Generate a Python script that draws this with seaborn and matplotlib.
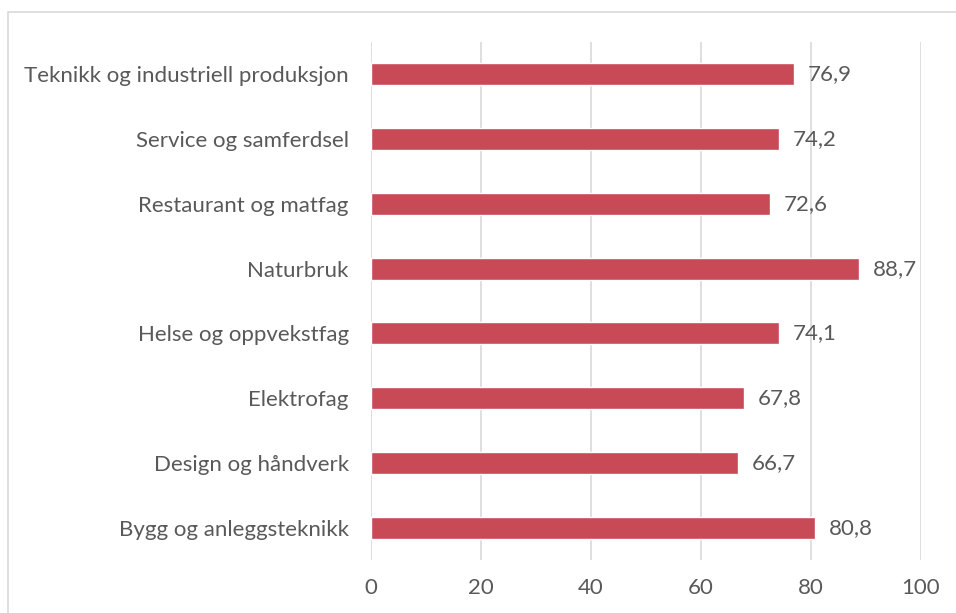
import matplotlib
matplotlib.use("Agg")
import matplotlib.pyplot as plt
import seaborn as sns
import pandas as pd
from matplotlib.patches import Rectangle

# program areas and share (%), top to bottom
programs = ["Teknikk og industriell produksjon", "Service og samferdsel", "Restaurant og matfag",
            "Naturbruk", "Helse og oppvekstfag", "Elektrofag", "Design og håndverk",
            "Bygg og anleggsteknikk"]
values = [76.9, 74.2, 72.6, 88.7, 74.1, 67.8, 66.7, 80.8]
xticks = [0, 20, 40, 60, 80, 100]

df = pd.DataFrame({"program": programs, "value": values})

sns.set_style("white")
plt.rcParams["font.family"] = ["Lato", "DejaVu Sans"]
text_col = "#595959"
bar_col = "#C84A57"
fs = 16

fig = plt.figure(figsize=(9.56, 6.13), dpi=100)
ax = fig.add_axes([371/956, 1 - 560/613, 550/956, 518/613])

sns.barplot(data=df, x="value", y="program", orient="h", color=bar_col,
            width=0.34, saturation=1, ax=ax)

ax.set_xlim(0, 100)
ax.set_ylim(7.5, -0.5)
ax.set_xticks(xticks)
ax.xaxis.grid(True, color="#D9D9D9", linewidth=1.2)
ax.set_axisbelow(True)
for s in ax.spines.values():
    s.set_visible(False)
ax.set_xlabel("")
ax.set_ylabel("")
ax.tick_params(axis="x", length=0, pad=13, labelsize=fs, labelcolor=text_col)
ax.tick_params(axis="y", length=0, pad=16, labelsize=fs, labelcolor=text_col)

for i, v in enumerate(values):
    ax.annotate(f"{v:.1f}".replace(".", ","), (v, i), xytext=(10, 0),
                textcoords="offset points", va="center", ha="left",
                fontsize=fs, color=text_col)

# chart frame
fig.patches.append(Rectangle((8/956, -0.1), 1.2, 1 - 12/613 + 0.1,
                             transform=fig.transFigure, fill=False,
                             edgecolor="#D9D9D9", linewidth=1.2))

fig.savefig("out.png", dpi=100)
